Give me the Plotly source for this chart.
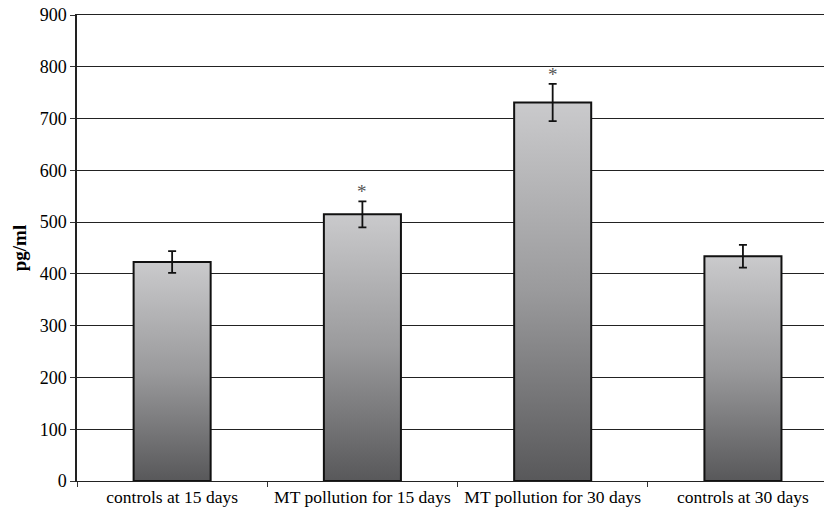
import plotly.graph_objects as go

categories = ["controls at 15 days", "MT pollution for 15 days",
              "MT pollution for 30 days", "controls at 30 days"]
values = [423, 515, 731, 434]
errors = [21, 25, 36, 22]
significant = [False, True, True, False]

y_ticks = [0, 100, 200, 300, 400, 500, 600, 700, 800, 900]

SERIF = "Liberation Serif, Times New Roman, serif"
half_w = 0.2025
xs = list(range(len(categories)))

fig = go.Figure()

# gradient-filled bars with black outline
for i, v in zip(xs, values):
    fig.add_trace(go.Scatter(
        x=[i - half_w, i + half_w, i + half_w, i - half_w, i - half_w],
        y=[0, 0, v, v, 0],
        mode="lines", line=dict(width=2, color="#111111"), fill="toself",
        fillgradient=dict(type="vertical",
                          colorscale=[[0, "#58585a"], [0.5, "#9a9a9c"], [1, "#cacacc"]]),
        hoverinfo="skip", showlegend=False,
    ))

# error bars
fig.add_trace(go.Scatter(
    x=xs, y=values, mode="markers", marker=dict(size=1, color="rgba(0,0,0,0)"),
    error_y=dict(type="data", array=errors, color="#111111", thickness=1.8, width=4),
    hoverinfo="skip", showlegend=False,
))

# significance stars
for i, v, e, s in zip(xs, values, errors, significant):
    if s:
        fig.add_annotation(x=i, y=v + e, text="*", showarrow=False,
                           yanchor="bottom", yshift=-3,
                           font=dict(family=SERIF, size=19, color="#555555"))

fig.update_layout(
    width=824, height=513,
    margin=dict(l=77, r=0, t=15, b=32, autoexpand=False),
    plot_bgcolor="white", paper_bgcolor="white",
    font=dict(family=SERIF, color="black"),
    xaxis=dict(
        range=[-0.5, 3.426], tickmode="array", tickvals=xs, ticktext=categories,
        ticks="", showgrid=False, zeroline=False,
        showline=True, mirror=True, linecolor="#222222", linewidth=1,
        ticklabeloverflow="allow",
        tickfont=dict(size=17.5, family=SERIF),
        minor=dict(ticks="outside", tick0=0.5, dtick=1, ticklen=5,
                   tickcolor="#333333", tickwidth=1, showgrid=False),
    ),
    yaxis=dict(
        range=[0, 900], tickmode="array", tickvals=y_ticks,
        showgrid=True, gridcolor="#222222", gridwidth=1,
        zeroline=True, zerolinecolor="#222222", zerolinewidth=1.5,
        showline=True, linecolor="#222222", linewidth=1.5,
        ticks="outside", ticklen=5, tickcolor="#333333",
        ticklabeloverflow="allow",
        tickfont=dict(size=18, family=SERIF),
        title=dict(text="<b>pg/ml</b>", font=dict(size=19, family=SERIF),
                   standoff=8),
    ),
)

fig.write_html(
    "out.html",
    config={"displayModeBar": False},
    post_script="document.body.style.margin='0';document.documentElement.style.overflow='hidden';",
)
